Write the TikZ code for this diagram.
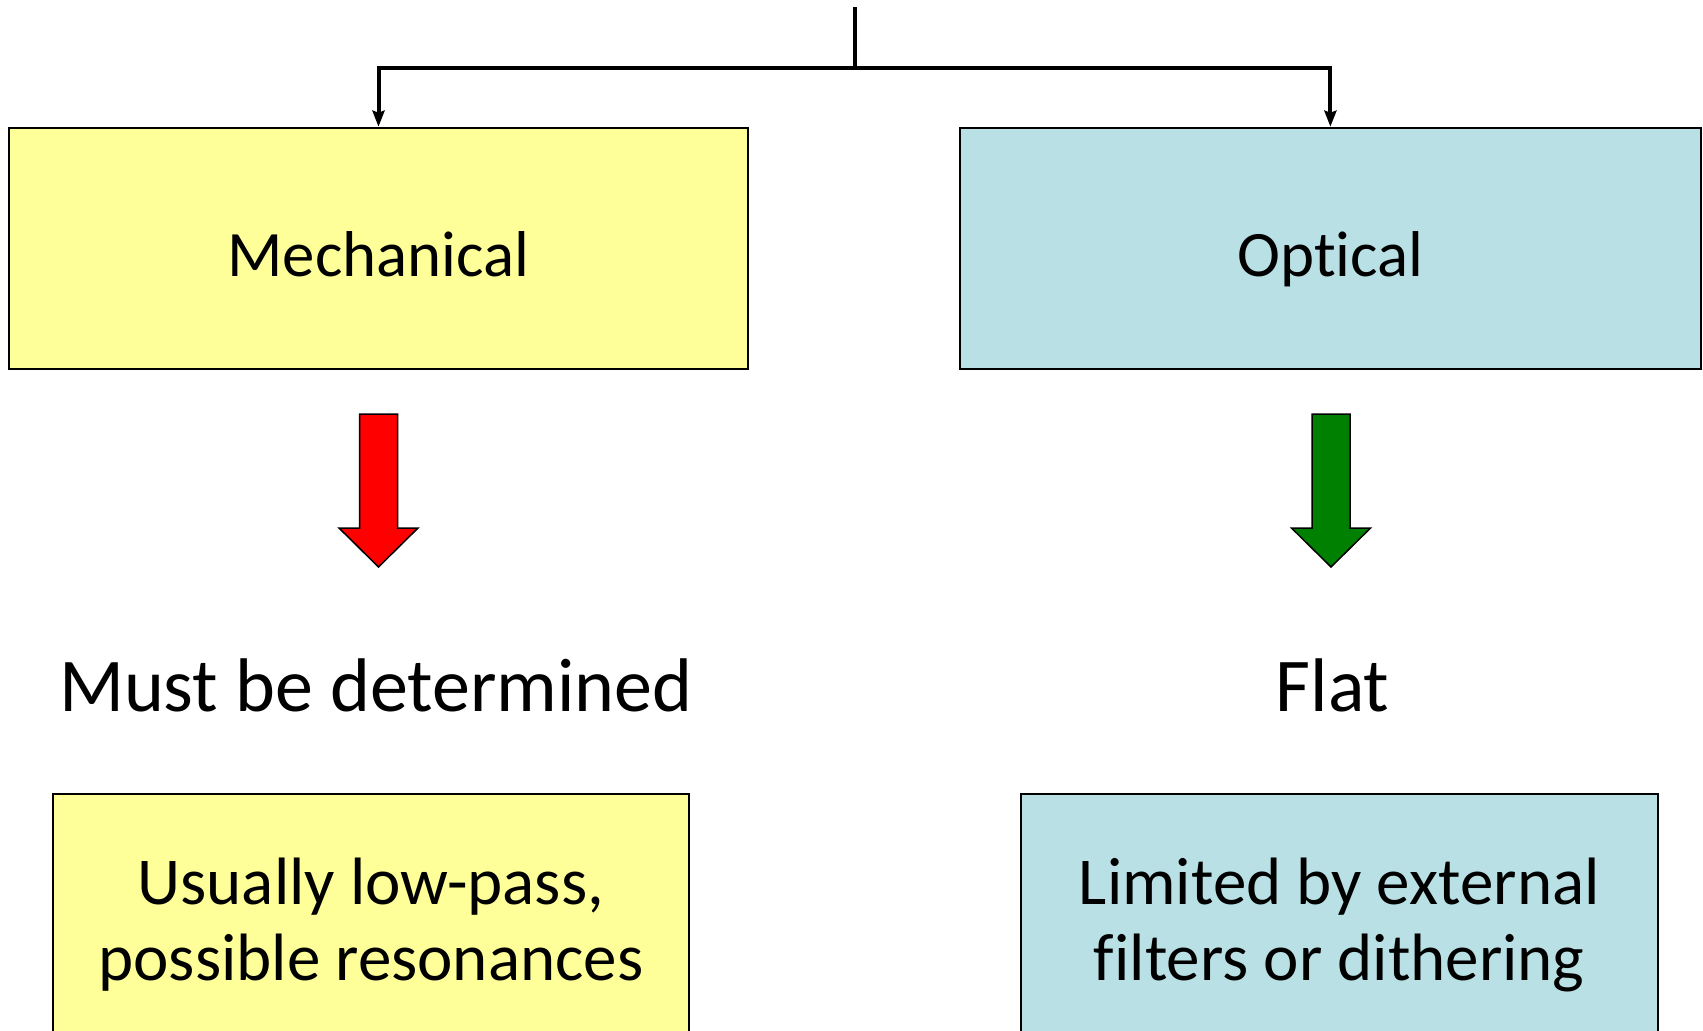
\documentclass[tikz,border=0pt]{standalone}
\usepackage{fontspec}
\setmainfont{Carlito}[Ligatures=NoCommon]
\usetikzlibrary{arrows.meta}
\definecolor{mechyellow}{RGB}{255,255,153}
\definecolor{optblue}{RGB}{185,224,228}
\definecolor{goodgreen}{RGB}{0,128,0}
\tikzset{
    box/.style={draw, line width=1pt, inner sep=0pt, align=center}, % common box style
    head/.style={box, text height=28.4pt, text depth=0pt, minimum height=120.8pt}, % top level box
    note/.style={box, anchor=north, minimum height=131pt, font=\fontsize{33.5}{38}\selectfont}, % detail box
    feed/.style={line width=2pt, -{Stealth[length=8pt, width=6pt, inset=1pt]}}, % branch connector
    result/.style={anchor=base, font=\fontsize{38}{44}\selectfont} % outcome text
}

\begin{document}
\begin{tikzpicture}[x=0.5pt, y=-0.5pt, font=\fontsize{32.4}{38}\selectfont]
    \useasboundingbox (0,0) rectangle (1703,1030);

    % top level boxes
    \node[head, fill=mechyellow, minimum width=369.8pt] (mech) at (378.5,248.5) {Mechanical};
    \node[head, fill=optblue, minimum width=370.4pt] (opt) at (1330.4,248.5) {Optical};

    % branching connector
    \coordinate (src) at (855,7);
    \coordinate (split) at (855,68);
    \draw[line width=2pt] (src) -- (split);
    \draw[feed] (split) -| (mech.north);
    \draw[feed] (split) -| (opt.north);

    % block arrows
    \foreach \cx/\col in {378.5/red, 1331/goodgreen} {
        \draw[fill=\col, line width=0.75pt] (\cx-19,414) -- (\cx+19,414) -- (\cx+19,528) -- (\cx+39.5,528)
            -- (\cx,567) -- (\cx-39.5,528) -- (\cx-19,528) -- cycle;
    }

    % outcomes
    \node[result] (mechout) at (375.8,711) {Must be determined};
    \node[result] (optout) at (1332.7,711) {Flat};

    % details
    \node[note, fill=mechyellow, minimum width=317.7pt] (mechnote) at (370.9,792.7)
        {Usually low-pass,\\possible resonances};
    \node[note, fill=optblue, minimum width=318.2pt] (optnote) at (1339.3,792.7)
        {Limited by external\\filters or dithering};
\end{tikzpicture}
\end{document}
